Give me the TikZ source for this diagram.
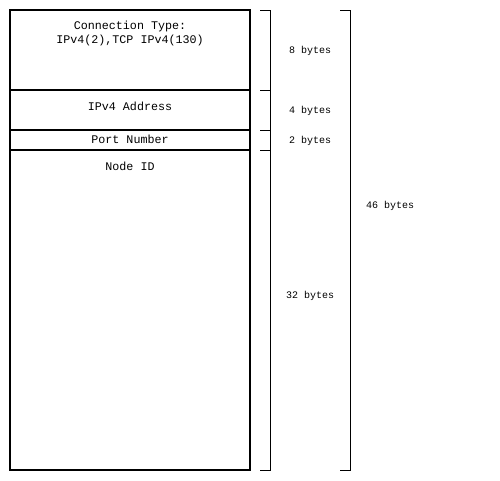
\documentclass[tikz,border=0pt]{standalone}
\usepackage{fontspec}
\setmonofont{Liberation Mono}
\usetikzlibrary{positioning}

\begin{document}
\begin{tikzpicture}[x=1pt, y=-1pt, node distance=0pt,
	field/.style={draw, line width=1.5pt, minimum width=240pt, inner sep=0pt, outer sep=0pt},
	title/.style={font=\ttfamily\fontsize{11.7}{14}\selectfont, align=center, inner sep=0pt},
	size/.style={font=\ttfamily\fontsize{10}{12}\selectfont, inner sep=0pt},
	brace/.style={line width=0.8pt}]
				\useasboundingbox (0,0) rectangle (500,480);

				\node[field, minimum height=80pt, anchor=north west] (conn) at (10,10) {};
				\node[field, minimum height=40pt]  (addr) [below=of conn] {};
				\node[field, minimum height=20pt]  (port) [below=of addr] {};
				\node[field, minimum height=320pt] (nid)  [below=of port] {};

				\node[title] (conntext) [below=11pt of conn.north] {Connection Type:\\IPv4(2),TCP IPv4(130)};
				\node[title] (addrtext) [below=12pt of addr.north] {IPv4 Address};
				\node[title] (porttext) [yshift=1pt] at (port) {Port Number};
				\node[title] (nidtext)  [below=12pt of nid.north] {Node ID};

				% small brackets
				\draw[brace] ([xshift=10pt]conn.north east) -- ([xshift=20pt]conn.north east)
					-- ([xshift=20pt]nid.south east) -- ([xshift=10pt]nid.south east);
				\draw[brace] ([xshift=10pt]addr.north east) -- ([xshift=20pt]addr.north east);
				\draw[brace] ([xshift=10pt]port.north east) -- ([xshift=20pt]port.north east);
				\draw[brace] ([xshift=10pt]nid.north east) -- ([xshift=20pt]nid.north east);

				% whole message
				\draw[brace] ([xshift=90pt]conn.north east) -- ([xshift=100pt]conn.north east)
					-- ([xshift=100pt]nid.south east) -- ([xshift=90pt]nid.south east);

				\node[size] (b8)  at (310,51)  {8 bytes};
				\node[size] (b4)  at (310,111) {4 bytes};
				\node[size] (b2)  at (310,141) {2 bytes};
				\node[size] (b32) at (310,296) {32 bytes};
				\node[size] (b46) at (390,206) {46 bytes};

			\end{tikzpicture}
\end{document}
